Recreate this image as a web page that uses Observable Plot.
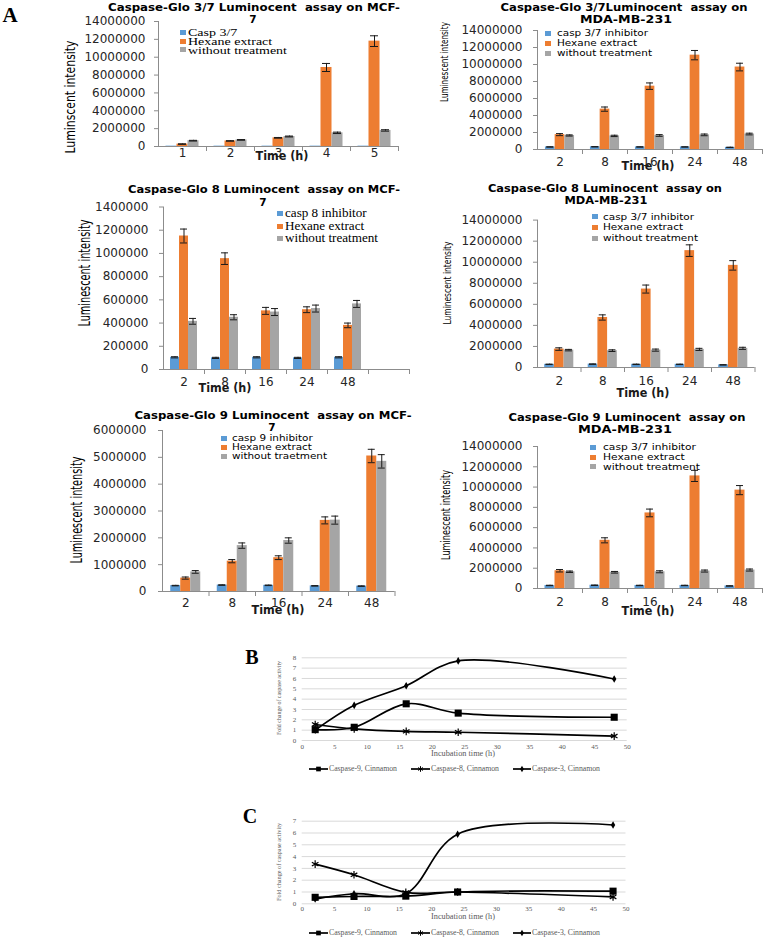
<!DOCTYPE html>
<html><head><meta charset="utf-8">
<script src="https://cdn.jsdelivr.net/npm/d3@7"></script>
<script src="https://cdn.jsdelivr.net/npm/@observablehq/plot@0.6"></script>
<style>
html,body{margin:0;padding:0;background:#fff;}
#page{position:relative;width:766px;height:938px;overflow:hidden;background:#fff;}
#page svg{position:absolute;overflow:visible;}
.t{position:absolute;white-space:pre;line-height:1;}
</style></head><body><div id="page"></div>
<script>
// ---------- DATA ----------
const seriesColors = ["#5B9BD5", "#ED7D31", "#A5A5A5"];

// A1: Caspase-Glo 3/7, MCF-7
const timesA1 = ["1", "2", "3", "4", "5"];
const inhibA1 = [40000, 40000, 40000, 40000, 40000];
const inhibErrA1 = [0, 0, 0, 0, 0];
const hexA1 = [270000, 620000, 970000, 8850000, 11800000];
const hexErrA1 = [30000, 30000, 40000, 450000, 600000];
const ctrlA1 = [650000, 740000, 1120000, 1530000, 1800000];
const ctrlErrA1 = [40000, 40000, 50000, 80000, 80000];
const legendA1 = ["Casp 3/7", "Hexane extract", "without treatment"];

// A2: Caspase-Glo 3/7, MDA-MB-231
const timesA2 = ["2", "8", "16", "24", "48"];
const inhibA2 = [300000, 320000, 300000, 300000, 250000];
const inhibErrA2 = [20000, 20000, 20000, 20000, 20000];
const hexA2 = [1750000, 4750000, 7450000, 11100000, 9700000];
const hexErrA2 = [120000, 250000, 380000, 550000, 450000];
const ctrlA2 = [1650000, 1600000, 1650000, 1720000, 1820000];
const ctrlErrA2 = [70000, 80000, 100000, 100000, 100000];
const legendA2 = ["casp 3/7 inhibitor", "Hexane extract", "without treatment"];

// A3: Caspase-Glo 8, MCF-7
const timesA3 = ["2", "8", "16", "24", "48"];
const inhibA3 = [105000, 100000, 105000, 100000, 105000];
const inhibErrA3 = [5000, 5000, 5000, 5000, 5000];
const hexA3 = [1150000, 955000, 505000, 515000, 380000];
const hexErrA3 = [60000, 50000, 30000, 25000, 20000];
const ctrlA3 = [415000, 450000, 495000, 525000, 565000];
const ctrlErrA3 = [25000, 22000, 30000, 30000, 30000];
const legendA3 = ["casp 8 inhibitor", "Hexane extract", "without treatment"];

// A4: Caspase-Glo 8, MDA-MB-231
const timesA4 = ["2", "8", "16", "24", "48"];
const inhibA4 = [300000, 320000, 300000, 300000, 250000];
const inhibErrA4 = [20000, 20000, 20000, 20000, 20000];
const hexA4 = [1750000, 4750000, 7450000, 11100000, 9700000];
const hexErrA4 = [120000, 250000, 380000, 550000, 450000];
const ctrlA4 = [1650000, 1600000, 1650000, 1720000, 1820000];
const ctrlErrA4 = [70000, 80000, 100000, 100000, 100000];
const legendA4 = ["casp 3/7 inhibitor", "Hexane extract", "without treatment"];

// A5: Caspase-Glo 9, MCF-7
const timesA5 = ["2", "8", "16", "24", "48"];
const inhibA5 = [220000, 240000, 230000, 210000, 200000];
const inhibErrA5 = [10000, 10000, 10000, 10000, 10000];
const hexA5 = [500000, 1130000, 1260000, 2650000, 5050000];
const hexErrA5 = [40000, 60000, 70000, 130000, 250000];
const ctrlA5 = [730000, 1710000, 1900000, 2660000, 4850000];
const ctrlErrA5 = [50000, 100000, 100000, 150000, 250000];
const legendA5 = ["casp 9 inhibitor", "Hexane extract", "without traetment"];

// A6: Caspase-Glo 9, MDA-MB-231
const timesA6 = ["2", "8", "16", "24", "48"];
const inhibA6 = [300000, 320000, 300000, 300000, 250000];
const inhibErrA6 = [20000, 20000, 20000, 20000, 20000];
const hexA6 = [1750000, 4750000, 7450000, 11100000, 9700000];
const hexErrA6 = [120000, 250000, 380000, 550000, 450000];
const ctrlA6 = [1650000, 1600000, 1650000, 1720000, 1820000];
const ctrlErrA6 = [70000, 80000, 100000, 100000, 100000];
const legendA6 = ["casp 3/7 inhibitor", "Hexane extract", "without treatment"];

// B and C: fold change of caspase activity
const timesLine = [2, 8, 16, 24, 48];
const lineNames = ["Caspase-9, Cinnamon", "Caspase-8, Cinnamon", "Caspase-3, Cinnamon"];
const bCasp9 = [1.05, 1.28, 3.55, 2.65, 2.25];
const bCasp8 = [1.55, 1.13, 0.88, 0.8, 0.43];
const bCasp3 = [1.0, 3.4, 5.3, 7.7, 5.95];
const bCasp3Err = [0.05, 0.1, 0.18, 0.25, 0.2];
const cCasp9 = [0.55, 0.62, 0.65, 1.0, 1.07];
const cCasp8 = [3.36, 2.46, 0.97, 1.0, 0.58];
const cCasp3 = [0.4, 0.85, 0.85, 5.9, 6.68];

// ---------- HELPERS ----------
const SANS = "'DejaVu Sans', Verdana, sans-serif";
const SERIF = "'Liberation Serif', 'Times New Roman', serif";
const NARROW = "'Liberation Sans Narrow', 'DejaVu Sans Condensed', 'Arial Narrow', sans-serif";
const page = document.getElementById("page");

function place(svg, left, top) {
  svg.style.left = left + "px";
  svg.style.top = top + "px";
  page.appendChild(svg);
}

function txt(s, x, y, o = {}) {
  const d = document.createElement("div");
  d.className = "t";
  d.textContent = s;
  d.style.fontFamily = o.f || SANS;
  d.style.fontSize = (o.s || 10) + "px";
  d.style.fontWeight = o.b ? "bold" : "normal";
  d.style.color = o.c || "#000";
  d.style.left = x + "px";
  d.style.top = y + "px";
  page.appendChild(d);
  const w = d.getBoundingClientRect().width;
  const sx = o.sx || (o.w ? o.w / w : 1);
  const tx = o.a === "start" ? "0" : "-50%";
  d.style.transformOrigin = "0 0";
  d.style.transform = `rotate(${o.r || 0}deg) scaleX(${sx}) translate(${tx},-50%)`;
  return {el: d, w};
}

function barLegend(labels, mx, tx, ys, o) {
  const items = labels.map((l, i) => txt(l, tx, ys[i], {...o, a: "start"}));
  const maxW = Math.max(...items.map(d => d.w));
  const sx = o.w / maxW;
  items.forEach(d => d.el.style.transform = `scaleX(${sx}) translate(0,-50%)`);
  ys.forEach((y, i) => {
    const m = document.createElement("div");
    m.style.cssText = `position:absolute;left:${mx - 3}px;top:${y - 2.5}px;width:6px;height:5px;background:${seriesColors[i]}`;
    page.appendChild(m);
  });
}

function barPanel(p) {
  const domain = p.domain;
  const bw = (p.width - p.ml - p.mr) / domain.length;
  const pad = (bw - 3 * p.barW) / 2;
  const vals = [p.inhib, p.hex, p.ctrl], errs = [p.inhibErr, p.hexErr, p.ctrlErr];
  const ax = "#8c8c8c";
  const marks = [];
  for (let k = 0; k < 3; k++) {
    const rows = p.times.map((t, i) => ({t, v: vals[k][i], e: errs[k][i]}));
    const inL = pad + k * p.barW, inR = bw - inL - p.barW;
    marks.push(Plot.barY(rows, {x: "t", y: "v", fill: seriesColors[k], insetLeft: inL, insetRight: inR}));
  }
  marks.push(Plot.ruleY([0], {stroke: ax}));
  marks.push(Plot.ruleX([domain[0]], {dx: -bw / 2, stroke: ax}));
  marks.push(Plot.ruleX(domain.slice(1), {dx: -bw / 2, y1: 0, y2: 0, insetBottom: -5, stroke: ax}));
  marks.push(Plot.ruleX([domain[domain.length - 1]], {dx: bw / 2, y1: 0, y2: 0, insetBottom: -5, stroke: ax}));
  for (let k = 0; k < 3; k++) {
    const rows = p.times.map((t, i) => ({t, v: vals[k][i], e: errs[k][i]})).filter(d => d.e > 0);
    const inL = pad + k * p.barW, inR = bw - inL - p.barW;
    const dx = inL + p.barW / 2 - bw / 2;
    const ci = (p.barW - p.cap) / 2;
    marks.push(Plot.ruleX(rows, {x: "t", y1: d => d.v - d.e, y2: d => d.v + d.e, dx, stroke: "#1a1a1a"}));
    marks.push(Plot.tickY(rows, {x: "t", y: d => d.v + d.e, insetLeft: inL + ci, insetRight: inR + ci, stroke: "#1a1a1a"}));
    marks.push(Plot.tickY(rows, {x: "t", y: d => d.v - d.e, insetLeft: inL + ci, insetRight: inR + ci, stroke: "#1a1a1a"}));
  }
  marks.push(Plot.axisY({ticks: d3.range(0, p.yMax + 1, p.yStep), tickFormat: d3.format("d"), tickSize: 4, tickPadding: p.yPad, stroke: ax}));
  marks.push(Plot.axisX({tickSize: 0, tickPadding: p.xPad}));
  const svg = Plot.plot({
    width: p.width, height: p.height,
    marginTop: p.mt, marginBottom: p.mb, marginLeft: p.ml, marginRight: p.mr,
    x: {type: "band", domain, padding: 0, round: false, label: null},
    y: {domain: [0, p.yMax], label: null},
    style: {background: "transparent", fontFamily: SANS, fontSize: "12px", color: "#262626", overflow: "visible"},
    marks
  });
  place(svg, p.left, p.top);
}

function linePanel(p) {
  const sets = [[p.c9, "square", 4], [p.c8, "asterisk", 3.6], [p.c3, "diamond", 2.3]];
  const marks = [Plot.ruleY(d3.range(0, p.yMax + 1), {stroke: "#d9d9d9"})];
  marks.push(Plot.axisX({ticks: d3.range(0, 51, 5), tickFormat: d3.format("d"), tickSize: 0, tickPadding: p.xPad}));
  marks.push(Plot.axisY({ticks: d3.range(0, p.yMax + 1), tickFormat: d3.format("d"), tickSize: 0, tickPadding: 6}));
  sets.forEach(([arr]) => {
    const rows = timesLine.map((t, i) => ({t, v: arr[i]}));
    marks.push(Plot.line(rows, {x: "t", y: "v", curve: "catmull-rom", stroke: "black", strokeWidth: 1.7}));
  });
  if (p.c3Err) {
    const rows = timesLine.map((t, i) => ({t, v: p.c3[i], e: p.c3Err[i]}));
    marks.push(Plot.ruleX(rows, {x: "t", y1: d => d.v - d.e, y2: d => d.v + d.e, stroke: "#444"}));
  }
  sets.forEach(([arr, sym, r]) => {
    const rows = timesLine.map((t, i) => ({t, v: arr[i]}));
    if (sym === "asterisk") marks.push(Plot.dot(rows, {x: "t", y: "v", symbol: sym, r, stroke: "black", strokeWidth: 1.2}));
    else marks.push(Plot.dot(rows, {x: "t", y: "v", symbol: sym, r, fill: "black", stroke: "none"}));
  });
  const svg = Plot.plot({
    width: p.width, height: p.height,
    marginTop: p.mt, marginBottom: p.mb, marginLeft: p.ml, marginRight: p.mr,
    x: {domain: [0, 50], label: null},
    y: {domain: [0, p.yMax], label: null},
    style: {background: "transparent", fontFamily: SERIF, fontSize: "7px", color: "#595959", overflow: "visible"},
    marks
  });
  place(svg, p.left, p.top);
}

function lineLegend(y) {
  const svg = d3.create("svg").attr("width", 766).attr("height", 14)
    .style("left", "0px").style("top", (y - 7) + "px");
  const items = [[309, 328, d3.symbolSquare, 22, true], [411, 430, d3.symbolAsterisk, 22, false], [513, 531, d3.symbolDiamond, 12, true]];
  items.forEach(([x1, x2, sym, size, filled]) => {
    svg.append("line").attr("x1", x1).attr("x2", x2).attr("y1", 7).attr("y2", 7).attr("stroke", "black").attr("stroke-width", 1.7);
    svg.append("path").attr("d", d3.symbol(sym, size)()).attr("transform", `translate(${(x1 + x2) / 2},7)`)
      .attr("fill", filled ? "black" : "none").attr("stroke", filled ? "none" : "black");
  });
  page.appendChild(svg.node());
  lineNames.forEach((n, i) => txt(n, [328, 430, 531][i] + 1, y, {f: SERIF, s: 7.5, c: "#595959", a: "start", w: 68}));
}

// ---------- PANELS ----------
barPanel({left: 0, top: 0, width: 405, height: 175, ml: 158, mr: 7, mt: 21, mb: 29,
  times: timesA1, domain: timesA1, inhib: inhibA1, inhibErr: inhibErrA1, hex: hexA1, hexErr: hexErrA1, ctrl: ctrlA1, ctrlErr: ctrlErrA1,
  yMax: 14000000, yStep: 2000000, barW: 11, cap: 8, yPad: 9, xPad: 2});
barPanel({left: 385, top: 0, width: 381, height: 175, ml: 152, mr: 4, mt: 30, mb: 26,
  times: timesA2, domain: timesA2, inhib: inhibA2, inhibErr: inhibErrA2, hex: hexA2, hexErr: hexErrA2, ctrl: ctrlA2, ctrlErr: ctrlErrA2,
  yMax: 14000000, yStep: 2000000, barW: 9.7, cap: 7, yPad: 11, xPad: 8});
barPanel({left: 0, top: 180, width: 412, height: 215, ml: 163, mr: 3, mt: 26.5, mb: 26,
  times: timesA3, domain: [...timesA3, ""], inhib: inhibA3, inhibErr: inhibErrA3, hex: hexA3, hexErr: hexErrA3, ctrl: ctrlA3, ctrlErr: ctrlErrA3,
  yMax: 1400000, yStep: 200000, barW: 9, cap: 7, yPad: 11, xPad: 8});
barPanel({left: 385, top: 180, width: 381, height: 215, ml: 152, mr: 11.5, mt: 39.6, mb: 28,
  times: timesA4, domain: timesA4, inhib: inhibA4, inhibErr: inhibErrA4, hex: hexA4, hexErr: hexErrA4, ctrl: ctrlA4, ctrlErr: ctrlErrA4,
  yMax: 14000000, yStep: 2000000, barW: 9.7, cap: 7, yPad: 11, xPad: 8.7});
barPanel({left: 0, top: 400, width: 400, height: 215, ml: 162, mr: 5.5, mt: 30, mb: 24,
  times: timesA5, domain: timesA5, inhib: inhibA5, inhibErr: inhibErrA5, hex: hexA5, hexErr: hexErrA5, ctrl: ctrlA5, ctrlErr: ctrlErrA5,
  yMax: 6000000, yStep: 1000000, barW: 10, cap: 7, yPad: 12, xPad: 7});
barPanel({left: 385, top: 400, width: 381, height: 215, ml: 152, mr: 4, mt: 46, mb: 27,
  times: timesA6, domain: timesA6, inhib: inhibA6, inhibErr: inhibErrA6, hex: hexA6, hexErr: hexErrA6, ctrl: ctrlA6, ctrlErr: ctrlErrA6,
  yMax: 14000000, yStep: 2000000, barW: 10, cap: 7, yPad: 11, xPad: 9});

linePanel({left: 240, top: 640, width: 400, height: 130, ml: 61.7, mr: 13.3, mt: 17.3, mb: 30,
  yMax: 8, c9: bCasp9, c8: bCasp8, c3: bCasp3, c3Err: bCasp3Err, xPad: 4});
linePanel({left: 240, top: 805, width: 400, height: 125, ml: 61.7, mr: 14.5, mt: 15.7, mb: 26.7,
  yMax: 7, c9: cCasp9, c8: cCasp8, c3: cCasp3, xPad: 2.5});
lineLegend(769);
lineLegend(933);

// ---------- TEXT ----------
txt("A", 10, 15, {f: SERIF, s: 21, b: true});
txt("B", 252, 657, {f: SERIF, s: 20, b: true});
txt("C", 250, 816, {f: SERIF, s: 20, b: true});

const T = {s: 10.5, b: true};
txt("Caspase-Glo 3/7 Luminocent  assay on MCF-", 254, 7, {...T, w: 292});
txt("7", 253, 19, T);
txt("Caspase-Glo 3/7Luminocent  assay on", 623.5, 7, {...T, w: 247});
txt("MDA-MB-231", 626, 19, {...T, w: 92});
txt("Caspase-Glo 8 Luminocent  assay on MCF-", 264, 189, {...T, w: 272});
txt("7", 263, 202, T);
txt("Caspase-Glo 8 Luminocent  assay on", 605, 188, {...T, w: 234});
txt("MDA-MB-231", 606, 200, {...T, w: 83});
txt("Caspase-Glo 9 Luminocent  assay on MCF-", 273, 415, {...T, w: 277});
txt("7", 272, 427, T);
txt("Caspase-Glo 9 Luminocent  assay on", 627, 417, {...T, w: 237});
txt("MDA-MB-231", 625, 429, {...T, w: 94});

txt("Luminscent intensity", 70, 97, {f: NARROW, s: 14, r: -90, w: 113});
txt("Luminescent intensity", 444, 62, {f: NARROW, s: 11, r: -90, w: 80});
txt("Luminescent intensity", 85, 273, {f: NARROW, s: 16, r: -90, w: 107});
txt("Luminescent intensity", 447, 283, {f: NARROW, s: 11, r: -90, w: 83});
txt("Luminescent intensity", 77, 510, {f: NARROW, s: 16, r: -90, w: 107});
txt("Luminescent intensity", 447, 515, {f: NARROW, s: 11.5, r: -90, w: 90});

const TM = {s: 12, b: true, w: 53, c: "#1a1a1a"};
txt("Time (h)", 282, 156, TM);
txt("Time (h)", 648, 166, TM);
txt("Time (h)", 225, 388, TM);
txt("Time (h)", 643, 393, TM);
txt("Time (h)", 278, 610, TM);
txt("Time (h)", 648, 611, TM);

barLegend(legendA1, 183, 188, [32, 41, 49.5], {f: SERIF, s: 11, w: 99});
barLegend(legendA2, 548, 557, [33, 43, 53], {f: SANS, s: 9.5, w: 95});
barLegend(legendA3, 280, 285, [213.3, 226, 238.3], {f: SERIF, s: 12, w: 93});
barLegend(legendA4, 595, 603, [216.7, 227, 238.3], {f: SANS, s: 9.5, w: 95});
barLegend(legendA5, 224, 232, [438.3, 447.3, 456], {f: SANS, s: 9.5, w: 95});
barLegend(legendA6, 593, 603, [447.3, 457.3, 466.7], {f: SANS, s: 9.5, w: 97});

txt("Incubation time (h)", 463, 754, {f: SERIF, s: 7.5, c: "#595959", w: 64});
txt("Fold change of caspase activity", 279, 698, {f: SERIF, s: 6.5, c: "#595959", r: -90, w: 74});
txt("Incubation time (h)", 463, 917, {f: SERIF, s: 7.5, c: "#595959", w: 64});
txt("Fold change of caspase activity", 279, 862, {f: SERIF, s: 6.5, c: "#595959", r: -90, w: 78});
</script></body></html>
